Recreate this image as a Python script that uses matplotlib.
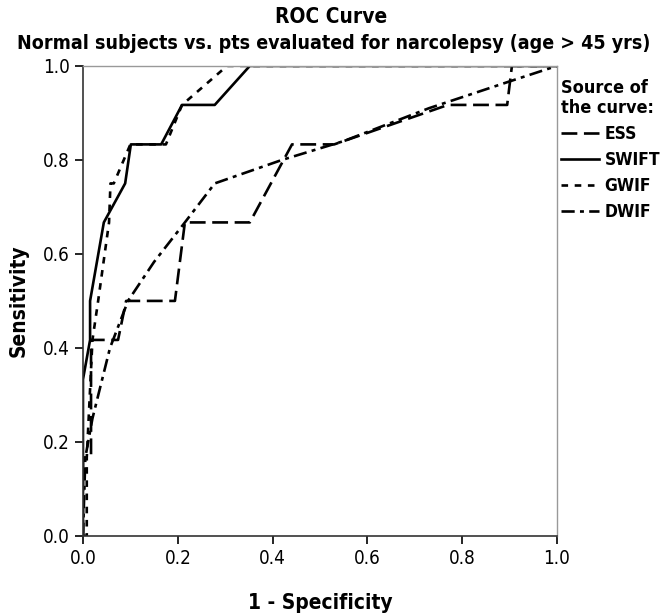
import matplotlib.pyplot as plt
from matplotlib.lines import Line2D

# ROC points (1 - specificity, sensitivity)
ess_x = [0.0, 0.0, 0.017, 0.017, 0.074, 0.091, 0.194, 0.215, 0.352, 0.441, 0.53, 0.77, 0.895, 0.905, 1.0]
ess_y = [0.0, 0.167, 0.167, 0.417, 0.417, 0.5, 0.5, 0.667, 0.667, 0.833, 0.833, 0.917, 0.917, 1.0, 1.0]

swift_x = [0.0, 0.0, 0.015, 0.015, 0.044, 0.089, 0.101, 0.165, 0.209, 0.278, 0.352, 1.0]
swift_y = [0.0, 0.333, 0.417, 0.5, 0.667, 0.75, 0.833, 0.833, 0.917, 0.917, 1.0, 1.0]

gwif_x = [0.0, 0.008, 0.008, 0.02, 0.032, 0.055, 0.058, 0.065, 0.1, 0.175, 0.209, 0.304, 1.0]
gwif_y = [0.0, 0.0, 0.167, 0.417, 0.5, 0.667, 0.75, 0.75, 0.833, 0.833, 0.917, 1.0, 1.0]

dwif_x = [0.0, 0.005, 0.02, 0.057, 0.095, 0.15, 0.215, 0.278, 0.42, 0.55, 0.73, 0.9, 1.0]
dwif_y = [0.0, 0.167, 0.25, 0.4, 0.5, 0.583, 0.667, 0.75, 0.8, 0.84, 0.91, 0.967, 1.0]

labels = ['ESS', 'SWIFT', 'GWIF', 'DWIF']
styles = [(0, (6, 2.5)), '-', (0, (2.5, 2.5)), (0, (5, 2, 1.5, 2))]

plt.rcParams['font.family'] = ['DejaVu Sans']
plt.rcParams['font.stretch'] = 'condensed'

fig = plt.figure(figsize=(6.67, 6.16), dpi=100)
ax = fig.add_axes([0.1244, 0.13, 0.7106, 0.763])

series = [(ess_x, ess_y), (swift_x, swift_y), (gwif_x, gwif_y), (dwif_x, dwif_y)]
for (x, y), ls in zip(series, styles):
    ax.plot(x, y, color='black', linestyle=ls, linewidth=1.9)

ax.set_xlim(0, 1)
ax.set_ylim(0, 1)
ax.set_xticks([0, 0.2, 0.4, 0.6, 0.8, 1.0])
ax.set_yticks([0, 0.2, 0.4, 0.6, 0.8, 1.0])
ax.set_xticklabels(['0.0', '0.2', '0.4', '0.6', '0.8', '1.0'])
ax.set_yticklabels(['0.0', '0.2', '0.4', '0.6', '0.8', '1.0'])
ax.tick_params(labelsize=13.5, length=6, width=1.2, direction='out')

for s in ['left', 'bottom']:
    ax.spines[s].set_color('#333333')
    ax.spines[s].set_linewidth(1.2)
for s in ['top', 'right']:
    ax.spines[s].set_color('#999999')
    ax.spines[s].set_linewidth(1.0)

ax.set_xlabel('1 - Specificity', fontsize=15, fontweight='bold', labelpad=18)
ax.set_ylabel('Sensitivity', fontsize=15, fontweight='bold', labelpad=10)

fig.text(0.497, 0.972, 'ROC Curve', ha='center', va='center', fontsize=15, fontweight='bold')
fig.text(0.5, 0.93, 'Normal subjects vs. pts evaluated for narcolepsy (age > 45 yrs)',
         ha='center', va='center', fontsize=14, fontweight='bold')

handles = [Line2D([], [], color='black', linestyle=ls, linewidth=1.9) for ls in styles]
leg = fig.legend(handles, labels, title='Source of\nthe curve:', loc='upper left',
                 bbox_to_anchor=(0.836, 0.878), frameon=False, fontsize=12.5,
                 title_fontsize=13, handlelength=2.2, handletextpad=0.3,
                 labelspacing=0.45, borderaxespad=0, borderpad=0.2)
leg.get_title().set_fontweight('bold')
leg._legend_box.align = 'left'
for t in leg.get_texts():
    t.set_fontweight('bold')

fig.savefig('out.png', dpi=100)
